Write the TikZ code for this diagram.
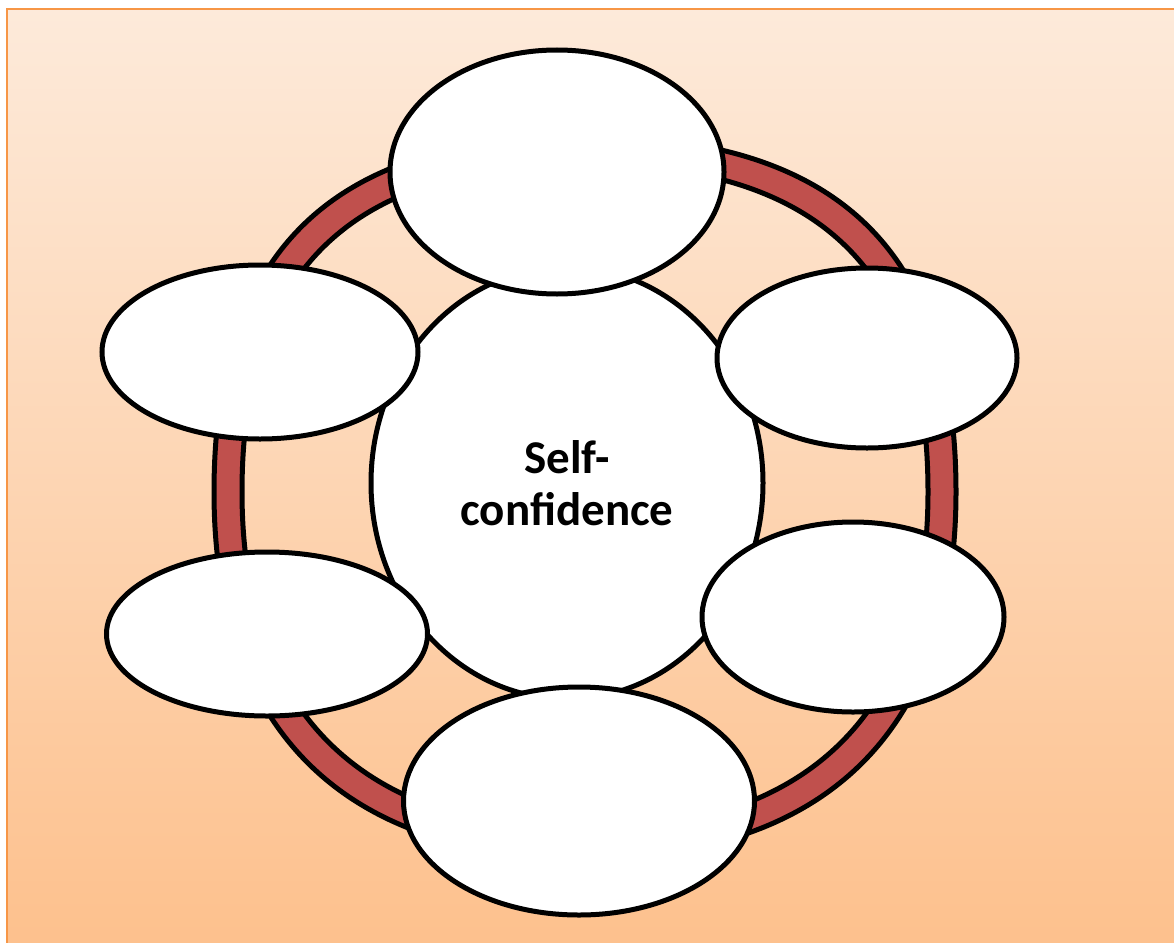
\documentclass[tikz,border=0pt]{standalone}
\usepackage{fontspec}
\setmainfont{Carlito}
\usetikzlibrary{shapes.geometric}
\definecolor{bgtop}{HTML}{FDEADA}
\definecolor{bgbot}{HTML}{FDC08C}
\definecolor{bgline}{HTML}{F79646}
\definecolor{ringred}{HTML}{C0504D}
\begin{document}
\begin{tikzpicture}[x=1pt,y=-1pt,
  outline/.style={draw=black, line width=5pt},
  bubble/.style={outline, ellipse, fill=white, inner sep=0pt},
  hub/.style={bubble, font=\bfseries\fontsize{47}{52}\selectfont, align=center}]
\useasboundingbox (0,0) rectangle (1174,942);
\fill[white] (0,0) rectangle (1174,942);
\shade[top color=bgtop, bottom color=bgbot] (7,9) rectangle (1190,960);
\draw[bgline, line width=2pt] (7,960) -- (7,9) -- (1190,9);
% ring (slightly squarish loop)
\begin{scope}[shift={(585,492)}]
\path[fill=ringred, even odd rule, outline]
  (371,0) .. controls (371,238) and (241,366) .. (0,366)
          .. controls (-241,366) and (-371,238) .. (-371,0)
          .. controls (-371,-242) and (-252,-356) .. (0,-356)
          .. controls (252,-356) and (371,-242) .. (371,0) -- cycle
  (343,0) .. controls (343,220) and (223,338) .. (0,338)
          .. controls (-223,338) and (-343,220) .. (-343,0)
          .. controls (-343,-223) and (-233,-328) .. (0,-328)
          .. controls (233,-328) and (343,-223) .. (343,0) -- cycle;
\end{scope}
% centre
\node[hub, minimum width=392pt, minimum height=432pt] (centre) at (567,483) {Self-\\confidence};
% surrounding ellipses
\node[bubble, minimum width=334pt, minimum height=244pt] (top) at (557,172) {};
\node[bubble, minimum width=300pt, minimum height=180pt] (upright) at (867,358) {};
\node[bubble, minimum width=302pt, minimum height=190pt] (lowright) at (853,617) {};
\node[bubble, minimum width=351pt, minimum height=228pt] (bottom) at (579,801) {};
\node[bubble, minimum width=321pt, minimum height=164pt] (lowleft) at (267,634) {};
\node[bubble, minimum width=316pt, minimum height=174pt] (upleft) at (260,352) {};
\end{tikzpicture}
\end{document}
